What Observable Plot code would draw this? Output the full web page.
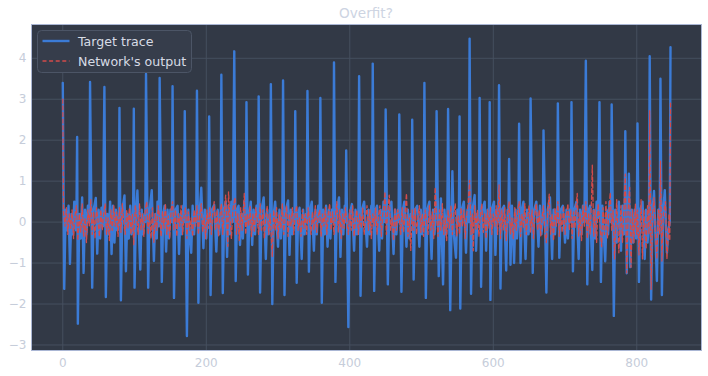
<!DOCTYPE html>
<html><head><meta charset="utf-8">
<script src="https://cdn.jsdelivr.net/npm/d3@7"></script>
<script src="https://cdn.jsdelivr.net/npm/@observablehq/plot@0.6"></script>
<style>body{margin:0;background:#fff;}#chart svg{display:block;}</style>
</head><body><div id="chart"></div>
<script>
const chartTitle = "Overfit?";
const seriesNames = ["Target trace", "Network's output"];
const xTicks = [0, 200, 400, 600, 800];
const yTicks = [-3, -2, -1, 0, 1, 2, 3, 4];

const targetTrace = [
[0,3.4],[2,-1.63],[4,0.3],[6,-0.2],[8,0.4],[10,-1.02],[12,0.2],[14,-0.3],[16,0.5],[18,-0.2],[19,0.1],
[20,2.08],[21,-2.48],[23,0.2],[25,-0.4],[27,0.6],[29,-1.24],[31,0.3],[33,-0.3],[35,0.4],[37,0.0],
[38,3.42],[41,-1.6],[43,0.3],[46,0.59],[48,-0.77],[50,0.3],[52,-0.4],[54,0.35],[56,-0.1],
[58,3.3],[60,-1.83],[62,0.2],[64,-0.3],[66,0.5],[68,-0.78],[70,0.4],[72,-0.5],[74,0.3],[76,-0.2],[78,0.1],
[79,2.79],[81,-1.91],[83,0.3],[86,0.65],[88,-1.2],[90,0.2],[92,-0.4],[94,0.4],[96,-0.3],[98,0.1],
[99,2.77],[100,-1.6],[102,0.2],[104,0.77],[106,-0.2],[108,-1.16],[110,0.3],[112,-0.3],[114,0.2],[115,0.0],
[116,3.62],[119,-1.6],[121,0.3],[124,0.78],[127,-0.95],[129,0.2],[131,-0.4],[132,0.5],[134,-0.1],
[135,3.52],[138,-1.46],[140,0.2],[142,0.4],[144,-0.72],[146,0.3],[148,-0.4],[150,0.3],[152,0.0],
[153,3.32],[155,-1.85],[157,0.3],[160,0.4],[162,-0.78],[164,0.2],[166,-0.3],[168,0.4],[169,0.0],
[170,2.71],[173,-2.78],[175,0.3],[177,-0.4],[179,-0.75],[181,0.4],[183,-0.3],[185,0.2],[186,0.0],
[187,3.21],[189,-1.97],[191,0.3],[193,0.84],[196,-0.64],[198,0.3],[200,-0.4],[202,0.2],[203,0.0],
[204,2.58],[206,-1.78],[208,0.3],[211,0.42],[214,-0.72],[216,0.3],[218,-0.3],[220,0.1],
[221,3.6],[223,-1.73],[225,0.3],[227,0.5],[229,-0.85],[231,0.4],[233,-0.3],[235,0.5],[237,0.0],
[239,4.17],[241,-1.44],[243,0.3],[245,0.4],[247,-0.56],[249,0.2],[251,-0.4],[253,0.5],[255,0.0],
[256,2.93],[258,-1.28],[260,0.2],[262,0.5],[264,-0.56],[266,0.3],[268,-0.3],[270,0.4],[272,0.0],
[273,3.07],[275,-1.72],[277,0.3],[280,0.6],[283,-0.9],[285,0.3],[287,-0.3],[289,0.0],
[290,3.37],[292,-2.0],[294,0.2],[296,0.5],[300,-0.6],[302,0.3],[304,-0.4],[306,0.1],
[307,3.46],[309,-1.78],[311,0.3],[314,0.53],[316,-0.8],[318,0.3],[320,-0.3],[322,0.2],[323,0.0],
[324,2.71],[326,-1.48],[328,0.2],[330,0.35],[333,-0.9],[335,0.3],[337,-0.3],[339,0.2],[340,0.0],
[341,3.2],[343,-1.21],[345,0.3],[347,0.5],[350,-0.7],[352,0.3],[354,-0.3],[356,0.4],[358,0.0],
[359,3.03],[361,-1.97],[363,0.3],[365,-0.3],[367,0.4],[369,-0.6],[371,0.3],[373,-0.4],[375,0.3],[377,0.0],
[378,3.9],[380,-1.46],[382,0.3],[385,0.6],[387,-0.85],[389,0.3],[391,-0.3],[393,0.4],[394,0.0],
[395,1.75],[398,-2.56],[400,0.2],[403,0.44],[406,-0.7],[408,0.3],[410,-0.3],[412,0.1],
[413,3.56],[415,-1.8],[417,0.3],[420,0.5],[424,-0.6],[426,0.3],[428,-0.3],[430,0.4],[431,0.0],
[432,3.87],[434,-1.68],[436,0.3],[438,0.4],[441,-0.7],[443,0.3],[445,-0.4],[447,0.5],[449,0.0],
[450,2.75],[453,-1.52],[455,0.3],[458,0.5],[461,-0.78],[463,0.3],[465,-0.3],[467,0.3],[468,0.0],
[469,2.63],[472,-1.7],[474,0.3],[476,0.5],[479,-0.6],[481,0.3],[483,-0.4],[485,0.2],[486,0.0],
[487,2.5],[489,-1.4],[491,0.3],[494,0.4],[497,-0.6],[499,0.3],[501,-0.3],[503,0.2],
[504,3.4],[506,-1.85],[508,0.3],[511,0.5],[514,-0.9],[516,0.3],[518,-0.3],[520,0.2],
[521,2.71],[524,-1.32],[527,0.58],[530,-1.52],[532,0.3],[534,-0.3],[536,0.2],
[537,2.76],[540,-2.15],[543,1.24],[545,-0.3],[548,-0.87],[550,0.3],[552,0.0],
[553,2.58],[554,-2.11],[556,0.3],[559,0.5],[562,-0.75],[564,0.3],[566,0.0],
[567,4.48],[569,-1.75],[571,0.3],[574,0.66],[576,-0.7],[578,0.2],[580,0.0],
[581,3.03],[583,-1.58],[585,0.3],[588,0.5],[590,-0.7],[592,0.3],[594,0.0],
[595,2.93],[596,-1.9],[598,0.3],[601,0.5],[603,-0.8],[605,0.3],[607,0.0],
[608,3.34],[610,-1.62],[612,0.3],[615,0.4],[618,-1.18],[620,0.3],[621,0.0],
[622,1.54],[624,-1.04],[626,0.4],[629,-1.0],[631,0.3],[633,-0.4],[635,0.1],
[636,2.4],[638,-1.0],[640,0.3],[642,0.5],[645,-0.9],[647,0.3],[649,-0.3],[651,0.0],
[652,3.02],[655,-1.24],[657,0.3],[660,0.5],[663,-0.6],[665,0.4],[667,-0.3],[669,0.0],
[670,2.24],[674,-1.72],[676,0.3],[679,0.6],[682,-0.9],[684,0.3],[686,-0.3],[688,0.3],[689,0.0],
[690,2.9],[692,-0.87],[694,0.3],[697,0.4],[700,-0.5],[702,0.3],[704,-0.4],[706,0.3],[708,0.0],
[709,2.93],[711,-1.2],[713,0.3],[716,0.5],[719,-0.9],[721,0.3],[723,-0.3],[725,0.4],[727,0.0],
[729,3.94],[731,-1.52],[733,0.3],[735,0.4],[738,-1.17],[740,0.3],[742,-0.4],[744,0.5],[746,0.1],
[748,2.93],[750,-1.46],[752,0.4],[756,-0.96],[758,0.3],[760,-0.3],[762,0.5],[764,0.0],
[765,2.87],[768,-2.29],[770,0.3],[772,-0.5],[775,0.5],[778,-0.7],[780,0.4],[782,-0.3],[783,0.0],
[784,2.22],[786,-1.25],[789,1.18],[791,-1.1],[793,0.3],[795,-0.5],[797,0.3],[799,-0.4],[800,0.0],
[801,2.41],[803,-1.46],[805,0.3],[808,0.5],[811,-0.9],[813,0.3],[815,-0.5],[817,0.0],
[818,4.05],[820,-1.89],[822,0.3],[824,0.76],[828,-1.44],[830,0.3],[832,0.0],
[833,3.5],[835,-1.78],[837,0.3],[839,0.78],[842,-0.75],[844,-0.2],[846,0.0],[847,4.27]
];

const networkOutput = [
[0,3.0],[1,0.25],[3,-0.1],[5,0.35],[7,-0.3],[9,0.2],[11,-0.15],[13,0.3],[15,-0.4],[17,0.15],[19,0.4],
[21,-0.45],[23,0.2],[25,-0.25],[27,0.45],[29,-0.35],[31,0.1],[33,-0.5],[35,0.3],[37,-0.1],[39,0.55],
[41,-0.3],[43,0.25],[45,-0.4],[47,0.35],[49,0.05],[51,-0.35],[53,0.3],[55,-0.2],[57,0.2],[59,0.45],
[61,-0.3],[63,0.1],[65,-0.45],[67,0.3],[69,-0.2],[71,0.4],[73,-0.1],[75,0.25],[77,-0.35],[79,0.35],
[81,-0.25],[83,0.45],[85,0.0],[87,-0.3],[89,0.3],[91,-0.15],[93,0.35],[95,-0.3],[97,0.2],[99,-0.56],
[101,0.4],[103,0.1],[105,-0.3],[107,0.45],[109,-0.2],[111,0.2],[113,-0.35],[115,0.3],[117,0.5],[119,-0.3],
[121,0.2],[123,-0.4],[125,0.35],[127,-0.5],[129,0.2],[131,-0.2],[133,0.4],[135,0.1],[137,-0.35],[139,0.25],
[141,-0.15],[143,0.45],[145,-0.3],[147,0.15],[149,-0.4],[151,0.3],[153,0.5],[155,-0.2],[157,0.3],[159,-0.35],
[161,0.2],[163,-0.1],[165,0.4],[167,-0.3],[169,0.15],[171,0.35],[173,-0.4],[175,0.25],[177,-0.2],[179,0.1],
[181,-0.35],[183,0.3],[185,-0.1],[187,0.4],[189,-0.3],[191,0.2],[193,0.45],[195,-0.25],[197,0.1],[199,-0.4],
[201,0.3],[203,-0.15],[205,0.35],[207,-0.3],[209,0.2],[211,0.5],[213,-0.2],[215,0.3],[217,-0.35],[219,0.15],
[221,0.45],[223,-0.3],[225,0.2],[227,0.66],[229,-0.2],[230,-0.59],[231,0.74],[233,0.1],[235,-0.4],[237,0.3],
[239,0.5],[240,0.6],[242,-0.3],[244,0.2],[246,-0.45],[248,0.35],[250,-0.2],[253,0.7],[255,-0.3],[257,0.2],
[259,-0.1],[261,0.4],[263,-0.35],[265,0.2],[267,-0.25],[269,0.35],[271,0.05],[273,-0.3],[275,0.45],[277,-0.2],
[279,0.3],[281,-0.4],[283,0.15],[285,0.4],[287,-0.3],[289,0.2],[291,-0.5],[292,-0.85],[294,0.3],[296,-0.2],
[298,0.35],[300,-0.4],[302,0.2],[304,-0.15],[306,0.45],[308,-0.3],[310,0.1],[312,0.4],[314,-0.35],[316,0.2],
[318,-0.1],[320,0.35],[322,-0.3],[324,0.2],[326,0.4],[328,-0.2],[330,0.1],[332,-0.35],[334,0.3],[336,-0.15],
[338,0.2],[340,-0.3],[342,0.35],[344,0.0],[346,-0.3],[348,0.25],[350,-0.2],[352,0.4],[354,-0.25],[356,0.15],
[358,0.3],[360,-0.35],[362,0.2],[364,-0.1],[366,0.35],[368,-0.3],[370,0.2],[372,0.45],[374,-0.2],[376,0.25],
[378,-0.3],[380,0.15],[382,0.5],[384,-0.25],[386,0.3],[388,-0.4],[390,0.2],[392,-0.15],[394,0.35],[396,0.0],
[398,-0.3],[400,0.3],[402,-0.2],[404,0.4],[406,-0.35],[408,0.1],[410,0.3],[412,-0.3],[414,0.2],[416,-0.15],
[418,0.35],[420,-0.3],[422,0.1],[424,0.4],[426,-0.2],[428,0.3],[430,-0.4],[432,0.2],[434,-0.1],[436,0.35],
[438,-0.3],[440,0.15],[442,0.4],[444,-0.35],[446,0.2],[448,0.45],[449,0.74],[451,-0.3],[453,0.3],[455,0.66],
[457,-0.2],[459,0.1],[461,-0.45],[463,0.35],[465,-0.2],[467,0.3],[469,0.1],[471,-0.3],[473,0.35],[475,-0.25],
[477,0.2],[479,0.7],[481,-0.35],[483,0.1],[485,-0.69],[487,0.3],[489,-0.2],[491,0.35],[493,-0.3],[495,0.15],
[497,0.4],[499,-0.25],[501,0.2],[503,-0.35],[505,0.3],[507,0.05],[509,-0.3],[511,0.4],[513,-0.2],[515,0.25],
[517,-0.4],[519,0.85],[521,0.1],[523,-0.35],[525,0.3],[527,-0.2],[529,0.45],[531,-0.3],[533,0.1],[535,-0.45],
[537,0.3],[539,-0.15],[541,0.4],[543,-0.3],[545,0.2],[547,0.45],[549,-0.35],[551,0.15],[553,-0.3],[555,0.35],
[557,-0.1],[559,0.3],[561,-0.4],[563,0.2],[565,0.45],[567,1.02],[569,-0.3],[571,0.2],[572,-0.7],[574,0.4],
[576,-0.2],[578,0.3],[580,-0.35],[582,0.15],[584,0.45],[586,-0.25],[588,0.2],[590,-0.4],[592,0.3],[594,-0.15],
[596,0.35],[598,-0.3],[600,0.2],[602,-0.1],[604,0.4],[606,-0.3],[608,0.91],[610,-0.4],[612,0.3],[614,-0.2],
[616,0.35],[618,-0.45],[620,0.2],[622,0.5],[624,-0.3],[626,0.1],[628,-0.4],[630,0.35],[632,-0.2],[634,0.3],
[636,0.5],[638,-0.35],[640,0.2],[642,-0.15],[644,0.45],[646,-0.3],[648,0.15],[650,0.4],[652,-0.25],[654,0.3],
[656,-0.4],[658,0.2],[660,0.45],[662,-0.2],[664,0.3],[666,-0.35],[668,0.1],[670,0.4],[672,-0.3],[674,-0.5],
[676,0.3],[678,0.68],[680,-0.3],[682,0.2],[684,-0.45],[686,0.35],[688,-0.1],[690,0.5],[692,-0.35],[694,0.2],
[696,-0.25],[698,0.4],[700,-0.3],[702,0.15],[704,0.45],[706,-0.2],[708,0.3],[710,-0.4],[712,0.25],[714,-0.15],
[716,0.5],[717,0.7],[719,-0.35],[721,0.2],[723,-0.45],[725,0.4],[727,-0.1],[729,0.5],[731,-0.4],[733,0.2],
[735,-0.3],[737,0.6],[738,1.39],[740,-0.35],[742,0.3],[744,-0.5],[746,0.45],[748,0.1],[751,-0.6],[753,0.35],
[755,-0.3],[757,0.5],[759,-0.4],[761,0.2],[763,0.72],[765,-0.2],[767,0.3],[769,-0.9],[772,0.55],[775,-0.75],
[778,0.4],[780,-0.5],[782,0.3],[784,1.17],[786,-1.24],[788,0.3],[790,0.85],[792,-1.1],[794,0.3],[796,-0.5],
[798,0.45],[800,-0.3],[801,0.3],[803,-0.8],[806,0.55],[808,-0.9],[810,0.3],[813,-0.65],[815,0.4],[817,-0.3],
[818,2.72],[820,-1.64],[822,0.2],[824,0.6],[826,-0.3],[828,-0.9],[830,0.3],[832,-0.3],[833,1.49],[835,-0.95],
[837,0.2],[840,0.5],[842,-0.9],[844,-0.3],[845,0.2],[846,-0.45],[847,2.93]
];

const blue = "#3b7bd6", red = "#d24b4b";
const tickColor = "#c6cdda";
const fmt = d => d < 0 ? "\u2212" + Math.abs(d) : String(d);

const chart = Plot.plot({
  width: 708, height: 376,
  marginLeft: 31, marginRight: 7, marginTop: 24, marginBottom: 26,
  style: {background: "transparent", fontFamily: "DejaVu Sans, sans-serif", overflow: "visible"},
  x: {domain: [-43.6, 890.2]},
  y: {domain: [-3.135, 4.825]},
  marks: [
    Plot.frame({fill: "#323946", stroke: null}),
    Plot.gridX(xTicks, {stroke: "#46505f", strokeOpacity: 1, strokeWidth: 1}),
    Plot.gridY(yTicks, {stroke: "#46505f", strokeOpacity: 1, strokeWidth: 1}),
    Plot.line(targetTrace, {x: d => d[0], y: d => d[1], stroke: blue, strokeWidth: 2.4, strokeLinejoin: "round"}),
    Plot.line(networkOutput, {x: d => d[0], y: d => d[1], stroke: red, strokeWidth: 1.3, strokeDasharray: "4,2.6"}),
    Plot.frame({stroke: "#aab6d4", strokeWidth: 1}),
    Plot.axisX(xTicks, {tickSize: 0, tickPadding: 8, fill: tickColor, fontSize: 12, label: null, tickFormat: fmt}),
    Plot.axisY(yTicks, {tickSize: 0, tickPadding: 5, fill: tickColor, fontSize: 12, label: null, tickFormat: fmt})
  ]
});
document.getElementById("chart").appendChild(chart);

const svg = d3.select(chart);
svg.append("text").attr("x", 366).attr("y", 13).attr("text-anchor", "middle")
  .attr("dominant-baseline", "central").attr("fill", "#cdd4e2")
  .style("font-size", "13.6px").style("font-family", "DejaVu Sans, sans-serif").text(chartTitle);

const lg = svg.append("g").style("font-family", "DejaVu Sans, sans-serif").attr("text-anchor", "start");
lg.append("rect").attr("x", 37.5).attr("y", 30.5).attr("width", 154).attr("height", 42)
  .attr("rx", 4).attr("fill", "#363d4b").attr("stroke", "#4c5566").attr("stroke-width", 1);
const entries = [
  {name: seriesNames[0], color: blue, dash: null, w: 2.4, y: 41},
  {name: seriesNames[1], color: red, dash: "4,2.6", w: 1.3, y: 61}
];
entries.forEach(e => {
  lg.append("line").attr("x1", 42.5).attr("x2", 69.5).attr("y1", e.y).attr("y2", e.y)
    .attr("stroke", e.color).attr("stroke-width", e.w).attr("stroke-dasharray", e.dash);
  lg.append("text").attr("x", 78).attr("y", e.y).attr("text-anchor", "start").attr("dominant-baseline", "central")
    .attr("fill", "#d6dbe5").style("font-size", "12.6px").text(e.name);
});
</script>
</body></html>
